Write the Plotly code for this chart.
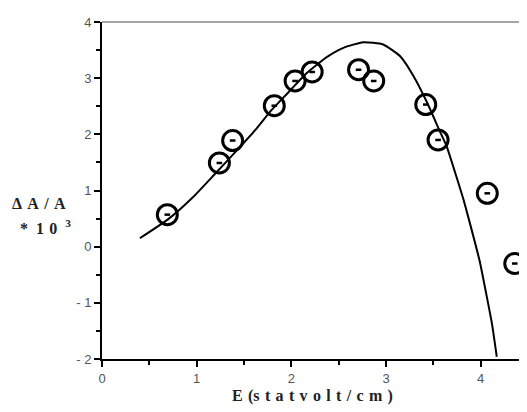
import plotly.graph_objects as go

# measured data points (E, dA/A*1e3)
pts_x = [0.69, 1.24, 1.38, 1.82, 2.04, 2.22, 2.71, 2.87, 3.42, 3.55, 4.07, 4.36]
pts_y = [0.57, 1.49, 1.89, 2.51, 2.95, 3.11, 3.15, 2.95, 2.53, 1.90, 0.95, -0.30]

# fitted curve
fit_x = [0.40, 0.70, 0.96, 1.19, 1.40, 1.62, 1.79, 1.97, 2.15, 2.37, 2.55, 2.76,
         2.97, 3.15, 3.29, 3.43, 3.57, 3.64, 3.73, 3.82, 3.90, 3.99, 4.06, 4.12, 4.17]
fit_y = [0.15, 0.49, 0.88, 1.29, 1.67, 2.08, 2.43, 2.75, 3.07, 3.37, 3.54, 3.64,
         3.60, 3.39, 3.04, 2.58, 2.05, 1.79, 1.32, 0.83, 0.33, -0.26, -0.85, -1.38, -1.96]

x_ticks = [0, 1, 2, 3, 4]
x_tick_text = ["0", "1", "2", "3", "4"]
y_ticks = [-2, -1, 0, 1, 2, 3, 4]
y_tick_text = ["- 2", "- 1", "0", "1", "2", "3", "4"]

# plot area in window pixels: x 102..528, y 17..359 (page body has 8px margin)
PL, PR, PT, PB = 102, 528, 17, 359
W, H = PR - PL, PB - PT

def px(xp):
    return (xp - PL) / W

def py(yp):
    return (PB - yp) / H

fig = go.Figure()
fig.add_trace(go.Scatter(x=fit_x, y=fit_y, mode="lines",
                         line=dict(color="black", width=2, shape="spline", smoothing=0.5),
                         hoverinfo="skip", showlegend=False))
fig.add_trace(go.Scatter(x=pts_x, y=pts_y, mode="markers", cliponaxis=False,
                         marker=dict(symbol="circle-open", size=20, color="black",
                                     line=dict(width=3, color="black")),
                         showlegend=False))
fig.add_trace(go.Scatter(x=pts_x, y=pts_y, mode="markers", cliponaxis=False,
                         marker=dict(symbol="line-ew", size=4, color="black",
                                     line=dict(width=2.5, color="black")),
                         showlegend=False))

fig.update_layout(
    width=527, height=412,
    margin=dict(l=PL - 8, r=527 + 8 - PR, t=PT - 8, b=412 + 8 - PB),
    paper_bgcolor="white", plot_bgcolor="white",
    font=dict(family="Liberation Sans, Arial", size=12, color="#444"),
    xaxis=dict(range=[0, 4.5], tickvals=x_ticks, ticktext=x_tick_text, showgrid=False, zeroline=False,
               showline=True, linecolor="black", linewidth=2, ticks="outside", ticklen=6, tickwidth=2,
               tickcolor="black",
               minor=dict(ticks="outside", dtick=0.5, ticklen=4, tickwidth=2, tickcolor="black"),
               tickfont=dict(size=13, color="#555")),
    yaxis=dict(range=[-2, 4], tickvals=y_ticks, ticktext=y_tick_text, showgrid=False, zeroline=False,
               showline=True, linecolor="black", linewidth=2, ticks="outside", ticklen=6, tickwidth=2,
               tickcolor="black",
               minor=dict(ticks="outside", dtick=0.5, ticklen=4, tickwidth=2, tickcolor="black"),
               tickfont=dict(size=13, color="#555")),
    shapes=[dict(type="line", xref="paper", yref="paper", x0=0, x1=1, y0=1, y1=1,
                 line=dict(color="#888", width=1.5))],
    annotations=[
        dict(text="<b>Δ\u2004A\u2004/\u2004A</b>", xref="paper", yref="paper", x=px(10), y=py(201),
             xanchor="left", yanchor="middle", showarrow=False,
             font=dict(family="Liberation Serif, Times New Roman", size=16, color="#222")),
        dict(text="<b>*\u20021\u20040\u2002<sup>3</sup></b>", xref="paper", yref="paper", x=px(18), y=py(225),
             xanchor="left", yanchor="middle", showarrow=False,
             font=dict(family="Liberation Serif, Times New Roman", size=16, color="#222")),
        dict(text="<b>E\u2004(s\u2004t\u2004a\u2004t\u2004v\u2004o\u2004l\u2004t\u2004/\u2004c\u2004m\u2004)</b>",
             xref="paper", yref="paper",
             x=px(312), y=py(397), xanchor="center", yanchor="middle", showarrow=False,
             font=dict(family="Liberation Serif, Times New Roman", size=16, color="#222")),
    ],
)

fig.write_html("out.html")
